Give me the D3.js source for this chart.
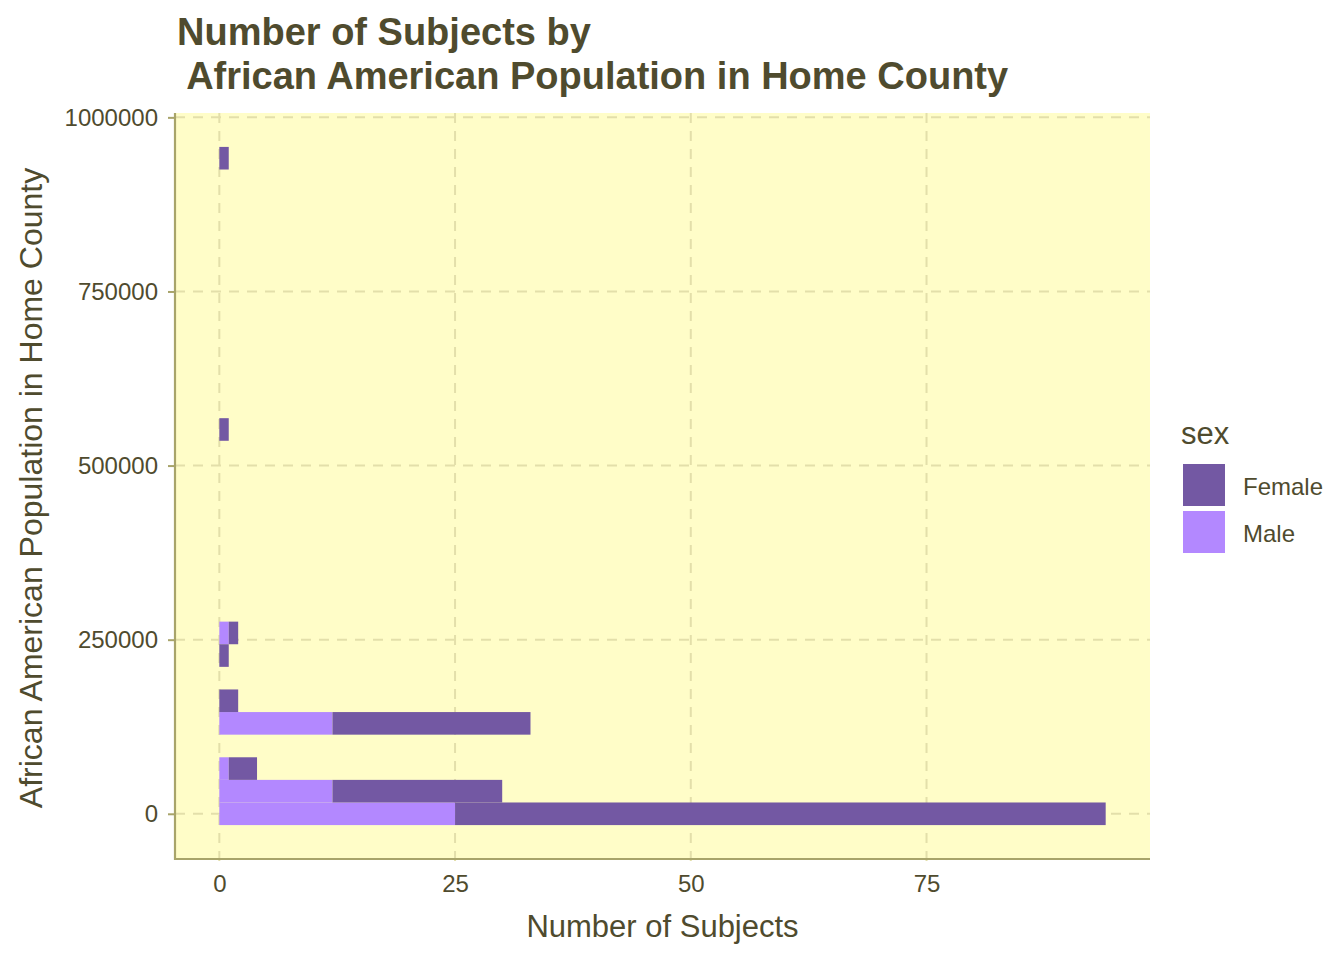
<!DOCTYPE html>
<html><head><meta charset="utf-8">
<script src="https://cdn.jsdelivr.net/npm/d3@7"></script>
<style>body{margin:0;background:#fff;} svg{display:block;font-family:"Liberation Sans",Arial,sans-serif;}</style>
</head><body>
<svg id="c" width="1344" height="960"></svg>
<script>
// Histogram bins (centre of each non-empty bin, African American population)
const binCenters = [0, 32460, 64920, 129840, 162300, 227220, 259680, 551820, 941340];
const binWidth = 32460;
const femaleCounts = [69, 18, 3, 21, 2, 1, 1, 1, 1];
const maleCounts   = [25, 12, 1, 12, 0, 0, 1, 0, 0];
const sexes = ["Female", "Male"];
const colors = ["#7358A3", "#B388FF"];
const xTicks = [0, 25, 50, 75];
const yTicks = [0, 250000, 500000, 750000, 1000000];

const textCol = "#4f4b2e";
const FONT = "Liberation Sans, Arial, sans-serif";
const svg = d3.select("#c");
const L = 175, R = 1150, T = 113, B = 859;

const x = d3.scaleLinear().domain([-4.7, 98.7]).range([L, R]);
const y = d3.scaleLinear().domain([-64920, 1006260]).range([B, T]);

svg.append("rect").attr("x", L).attr("y", T).attr("width", R - L).attr("height", B - T).attr("fill", "#FFFDC8");

// grid
const grid = svg.append("g").attr("stroke", "#E3DFAA").attr("stroke-width", 2).attr("stroke-dasharray", "10,8");
xTicks.forEach(t => grid.append("line").attr("x1", x(t)).attr("x2", x(t)).attr("y1", T).attr("y2", B + 6));
yTicks.forEach(t => grid.append("line").attr("x1", L).attr("x2", R).attr("y1", y(t)).attr("y2", y(t)));

// stacked bars: Male at base, Female stacked after
const bins = binCenters.map((c, i) => ({c, Male: maleCounts[i], Female: femaleCounts[i]}));
const stack = d3.stack().keys(["Male", "Female"])(bins);
const colorOf = d3.scaleOrdinal().domain(sexes).range(colors);
stack.forEach(layer => {
  svg.append("g").attr("fill", colorOf(layer.key)).selectAll("rect").data(layer.filter(d => d[1] > d[0])).join("rect")
    .attr("x", d => x(d[0]))
    .attr("width", d => x(d[1]) - x(d[0]))
    .attr("y", d => y(d.data.c + binWidth / 2))
    .attr("height", d => y(d.data.c - binWidth / 2) - y(d.data.c + binWidth / 2));
});

// axes
const axCol = "#A8A46A";
svg.append("line").attr("x1", L).attr("x2", L).attr("y1", T).attr("y2", B + 1).attr("stroke", axCol).attr("stroke-width", 2.2);
svg.append("line").attr("x1", L - 1).attr("x2", R).attr("y1", B).attr("y2", B).attr("stroke", axCol).attr("stroke-width", 2.2);

const yAxis = d3.axisLeft(y).tickValues(yTicks).tickFormat(d3.format("d")).tickSize(7).tickPadding(10);
const gy = svg.append("g").attr("transform", `translate(${L},0)`).call(yAxis);
gy.select(".domain").remove();
gy.selectAll("line").attr("stroke", axCol).attr("stroke-width", 2);
gy.selectAll("text").attr("fill", textCol).attr("font-size", 24).attr("font-family", FONT);

const xAxis = d3.axisBottom(x).tickValues(xTicks).tickSize(0).tickPadding(16);
const gx = svg.append("g").attr("transform", `translate(0,${B})`).call(xAxis);
gx.select(".domain").remove();
gx.selectAll("text").attr("fill", textCol).attr("font-size", 24).attr("font-family", FONT);

// axis titles
svg.append("text").attr("x", (L + R) / 2).attr("y", 937).attr("text-anchor", "middle")
  .attr("fill", textCol).attr("font-size", 31).text("Number of Subjects");
svg.append("text").attr("transform", `translate(42,${(T + B) / 2 + 2}) rotate(-90)`).attr("text-anchor", "middle")
  .attr("fill", textCol).attr("font-size", 32).text("African American Population in Home County");

// title
const title = svg.append("text").attr("fill", textCol).attr("font-size", 38).attr("font-weight", "bold");
title.append("tspan").attr("x", 177).attr("y", 45).text("Number of Subjects by");
title.append("tspan").attr("x", 177).attr("y", 89).style("white-space", "pre").text(" African American Population in Home County");

// legend
const lg = svg.append("g");
lg.append("text").attr("x", 1181).attr("y", 444).attr("fill", textCol).attr("font-size", 31).text("sex");
sexes.forEach((s, i) => {
  lg.append("rect").attr("x", 1183).attr("y", 464 + i * 47).attr("width", 42).attr("height", 42).attr("fill", colors[i]);
  lg.append("text").attr("x", 1243).attr("y", 495 + i * 47).attr("fill", textCol).attr("font-size", 24).text(s);
});
</script>
</body></html>
